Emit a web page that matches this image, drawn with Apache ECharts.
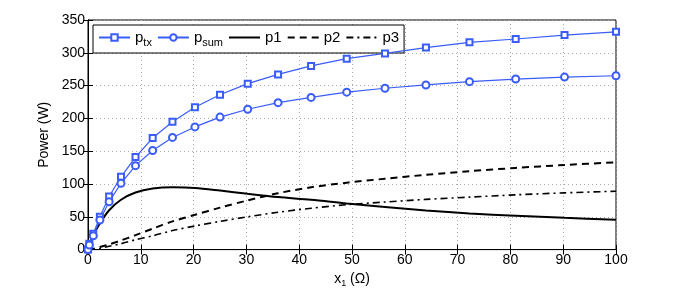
<!DOCTYPE html>
<html><head><meta charset="utf-8">
<script src="https://cdn.jsdelivr.net/npm/echarts@6/dist/echarts.min.js"></script>
<style>html,body{margin:0;padding:0;background:#fff}#c{width:681px;height:293px}</style>
</head><body><div id="c"></div>
<script>
const xVals = [0,0.25,1,2.25,4,6.25,9,12.25,16,20.25,25,30.25,36,42.25,49,56.25,64,72.25,81,90.25,100];
const pTx  = [0,9,24,50,81,111,141,170,195,217,236,253,267,280,291,299,308,316,321,327,332];
const pSum = [0,7,21,45,73,101,128,151,171,187,202,214,224,232,240,246,251,256,260,263,265];
const p1   = [0,6,22,40,60,76,87,93,95,94,90,85,80,76,70.3,65,59.5,55,51.7,48.4,45.5];
const p2   = [0,0.3,1.2,4,8,14,22,32,43,53,64,75,86,95,102,108,114,119.5,124.5,129,133];
const p3   = [0,0.1,0.5,2,5,9,15,21,29,36,43,50,57,63,68.5,72.5,76.5,80,83.5,86.5,89];
const xTicks = [0,10,20,30,40,50,60,70,80,90,100];
const yTicks = [0,50,100,150,200,250,300,350];

const pairs = a => xVals.map((x,i)=>[x,a[i]]);
const blue = '#3a5cf8';
const font = 'Liberation Sans, Arial, sans-serif';
const chart = echarts.init(document.getElementById('c'), null, {renderer:'canvas'});
const names = {ptx:'{a|p}{s|tx}', psum:'{a|p}{s|sum}', p1:'{a|p1}', p2:'{a|p2}', p3:'{a|p3}'};
const hideSym = {opacity:0};
chart.setOption({
  animation:false,
  textStyle:{fontFamily:font},
  grid:{left:88, right:65, top:20, bottom:42, show:true, borderColor:'#000', borderWidth:1},
  legend:{
    left:93, top:25, orient:'horizontal',
    backgroundColor:'#fff', borderColor:'#000', borderWidth:1,
    padding:[5,5,5,5], itemGap:5, itemWidth:31, itemHeight:8,
    formatter: n => names[n],
    textStyle:{fontFamily:font, color:'#000', rich:{a:{fontSize:15, fontFamily:font, color:'#000'}, s:{fontSize:11, fontFamily:font, color:'#000', verticalAlign:'bottom', padding:[10,0,0,0]}}},
    data:['ptx','psum',
      {name:'p1', itemStyle:hideSym},
      {name:'p2', itemStyle:hideSym},
      {name:'p3', itemStyle:hideSym}]
  },
  xAxis:[{
    type:'value', min:0, max:100, interval:10,
    name:'{a|x}{s|1}{a| (Ω)}', nameLocation:'middle', nameGap:20,
    nameTextStyle:{rich:{a:{fontSize:14, fontFamily:font, color:'#000'}, s:{fontSize:9, fontFamily:font, color:'#000', padding:[8,0,0,0]}}},
    axisLine:{show:true, onZero:false, lineStyle:{color:'#000', width:1}},
    axisTick:{inside:true, length:5, lineStyle:{color:'#000'}},
    axisLabel:{fontSize:14, color:'#000', margin:4, fontFamily:font},
    splitLine:{show:true, lineStyle:{type:[1,3], color:'#aaa'}}
  },{
    type:'value', min:0, max:100, interval:10, position:'top',
    axisLine:{show:true, lineStyle:{color:'#000'}},
    axisTick:{inside:true, length:5, lineStyle:{color:'#000'}},
    axisLabel:{show:false}, splitLine:{show:false}
  }],
  yAxis:[{
    type:'value', min:0, max:350, interval:50,
    name:'Power (W)', nameLocation:'middle', nameGap:36,
    nameTextStyle:{fontSize:14, color:'#000', fontFamily:font},
    axisLine:{show:true, onZero:false, lineStyle:{color:'#000'}},
    axisTick:{inside:true, length:5, lineStyle:{color:'#000'}},
    axisLabel:{fontSize:14, color:'#000', margin:3, fontFamily:font},
    splitLine:{show:true, lineStyle:{type:[1,3], color:'#aaa'}}
  },{
    type:'value', min:0, max:350, interval:50, position:'right',
    axisLine:{show:true, lineStyle:{color:'#000'}},
    axisTick:{inside:true, length:5, lineStyle:{color:'#000'}},
    axisLabel:{show:false}, splitLine:{show:false}
  }],
  series:[
    {name:'ptx', type:'line', data:pairs(pTx), symbol:'emptyRect', symbolSize:6,
     lineStyle:{color:blue, width:1.2}, itemStyle:{color:blue, borderWidth:1.1}, z:5},
    {name:'psum', type:'line', data:pairs(pSum), symbol:'emptyCircle', symbolSize:7,
     lineStyle:{color:blue, width:1.2}, itemStyle:{color:blue, borderWidth:1.1}, z:5},
    {name:'p1', type:'line', data:pairs(p1), symbol:'none', smooth:0.3,
     lineStyle:{color:'#000', width:2}, itemStyle:{color:'#000'}},
    {name:'p2', type:'line', data:pairs(p2), symbol:'none', smooth:0.3,
     lineStyle:{color:'#000', width:2, type:[7,5]}, itemStyle:{color:'#000'}},
    {name:'p3', type:'line', data:pairs(p3), symbol:'none', smooth:0.3,
     lineStyle:{color:'#000', width:1.6, type:[7,4,2,4]}, itemStyle:{color:'#000'}}
  ]
});
</script></body></html>
